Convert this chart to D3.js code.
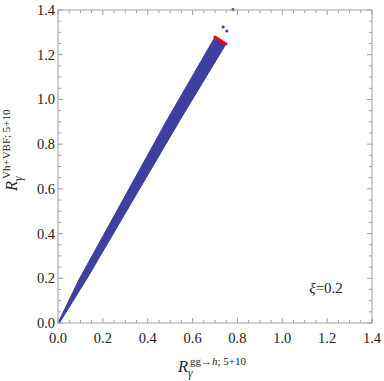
<!DOCTYPE html>
<html><head><meta charset="utf-8">
<script src="https://cdn.jsdelivr.net/npm/d3@7"></script>
<style>body{margin:0;background:#fff}svg{display:block}</style>
</head><body>
<script>
// Data
const xDomain = [0, 1.4];
const yDomain = [0, 1.4];
const tickValues = [0, 0.2, 0.4, 0.6, 0.8, 1.0, 1.2, 1.4];
// band of scan points: upper-left edge and lower-right edge
const bandUpper = [[0, 0], [0.095, 0.197], [0.486, 0.908], [0.700, 1.279]];
const bandLower = [[0.006, 0], [0.128, 0.197], [0.544, 0.908], [0.749, 1.248]];
// red end cap
const capPoints = [[0.700, 1.279], [0.749, 1.248]];
// isolated points
const strayPoints = [[0.736, 1.324], [0.753, 1.306], [0.78, 1.402]];

const W = 384, H = 381;
const m = {left: 58, right: 12, top: 10, bottom: 58};
const svg = d3.select("body").append("svg").attr("width", W).attr("height", H);
const x = d3.scaleLinear().domain(xDomain).range([m.left, W - m.right]);
const y = d3.scaleLinear().domain(yDomain).range([H - m.bottom, m.top]);

const blue = "#3f3f9f";

// band
const poly = bandUpper.concat(bandLower.slice().reverse());
svg.append("path")
  .attr("d", "M" + poly.map(p => x(p[0]) + "," + y(p[1])).join("L") + "Z")
  .attr("fill", blue).attr("stroke", blue).attr("stroke-width", 1).attr("stroke-linejoin", "round");
svg.append("line")
  .attr("x1", x(capPoints[0][0])).attr("y1", y(capPoints[0][1]))
  .attr("x2", x(capPoints[1][0])).attr("y2", y(capPoints[1][1]))
  .attr("stroke", "#ff0000").attr("stroke-width", 3).attr("stroke-linecap", "round");
svg.append("g").selectAll("circle").data(strayPoints).join("circle")
  .attr("cx", d => x(d[0])).attr("cy", d => y(d[1])).attr("r", 1.6).attr("fill", blue);

// frame and ticks
const frameColor = "#a0a0a0";
const minor = d3.range(0, 1.4001, 0.05);
const isMajor = v => Math.abs(v * 5 - Math.round(v * 5)) < 1e-6;
const axisG = svg.append("g");
axisG.append("rect").attr("x", m.left).attr("y", m.top)
  .attr("width", W - m.left - m.right).attr("height", H - m.top - m.bottom)
  .attr("fill", "none").attr("stroke", frameColor).attr("stroke-width", 1);
minor.forEach(v => {
  const L = isMajor(v) ? 5 : 3;
  axisG.append("line").attr("x1", x(v)).attr("x2", x(v)).attr("y1", y(0)).attr("y2", y(0) - L).attr("stroke", frameColor);
  axisG.append("line").attr("x1", x(v)).attr("x2", x(v)).attr("y1", y(1.4)).attr("y2", y(1.4) + L).attr("stroke", frameColor);
  axisG.append("line").attr("y1", y(v)).attr("y2", y(v)).attr("x1", x(0)).attr("x2", x(0) + L).attr("stroke", frameColor);
  axisG.append("line").attr("y1", y(v)).attr("y2", y(v)).attr("x1", x(1.4)).attr("x2", x(1.4) - L).attr("stroke", frameColor);
});

const font = "'Liberation Serif', 'Times New Roman', serif";
svg.append("g").selectAll("text").data(tickValues).join("text")
  .attr("x", d => x(d)).attr("y", y(0) + 20).attr("text-anchor", "middle")
  .attr("font-family", font).attr("font-size", 14.5).attr("fill", "#222")
  .text(d => d.toFixed(1));
svg.append("g").selectAll("text").data(tickValues).join("text")
  .attr("x", x(0) - 3).attr("y", d => y(d) + 5).attr("text-anchor", "end")
  .attr("font-family", font).attr("font-size", 14.5).attr("fill", "#222")
  .text(d => d.toFixed(1));

// axis titles
function rLabel(g, sup) {
  g.append("text").attr("font-family", font).attr("fill", "#222")
    .attr("font-style", "italic").attr("font-size", 16.5).text("R");
  const t = g.append("text").attr("x", 12).attr("y", -7).attr("font-family", font).attr("fill", "#222").attr("font-size", 11);
  sup(t);
  g.append("text").attr("x", 10).attr("y", 5).attr("font-family", font).attr("font-style", "italic")
    .attr("font-size", 11.5).attr("fill", "#222").text("γ");
}
// x title
const xt = svg.append("g").attr("transform", `translate(178,372)`);
rLabel(xt, s => { s.append("tspan").text("gg→"); s.append("tspan").attr("font-style", "italic").text("h"); s.append("tspan").text("; 5+10"); });

// y title
const yt = svg.append("g").attr("transform", `translate(17,191) rotate(-90)`);
rLabel(yt, s => { s.append("tspan").text("Vh+VBF; 5+10"); });

// annotation
svg.append("text").attr("x", x(1.12)).attr("y", y(0.135)).attr("font-family", font).attr("font-size", 15).attr("fill", "#222")
  .html('<tspan font-style="italic">ξ</tspan>=0.2');
</script>
</body></html>
